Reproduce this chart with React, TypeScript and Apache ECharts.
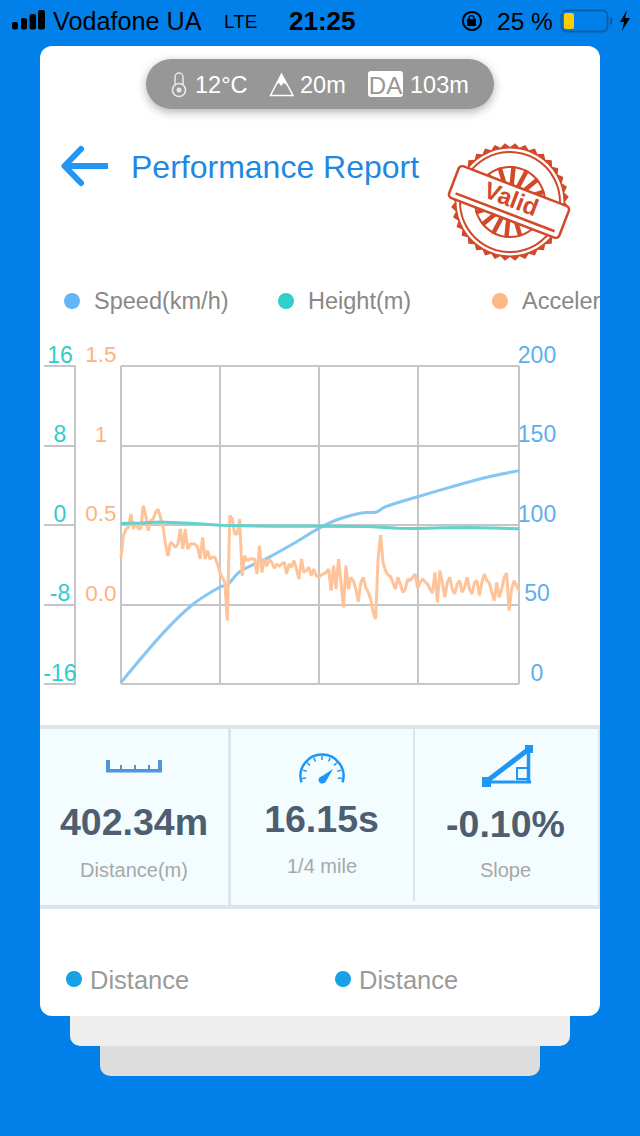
import React, { useEffect, useRef } from "react";
import * as echarts from "echarts";

// one sample every 0.1s, run took 16.1s
const sampleTimes = Array.from({ length: 162 }, (_, i) => (i / 10).toFixed(1));

const speedSamples = [0, 17, 29, 40, 43, 48, 59, 70, 80, 88, 99, 103, 107, 120, 134, 148, 161];
const speedValues = [1, 32, 50, 61, 62.3, 70.6, 79, 88.5, 97.9, 103.6, 107.8, 108, 111.5, 117.8, 124.1, 130, 134.2];

const heightSamples = [0, 8, 16, 30, 40, 60, 80, 100, 112, 120, 130, 140, 150, 161];
const heightValues = [0.15, 0.2, 0.3, 0.15, -0.02, -0.12, -0.12, -0.15, -0.32, -0.35, -0.28, -0.25, -0.3, -0.38];

const accelValues = [
  0.297, 0.433, 0.475, 0.485, 0.569, 0.475, 0.517, 0.475, 0.479, 0.622, 0.559, 0.464, 0.527, 0.538, 0.58, 0.6, 0.548, 0.485, 0.38, 0.303,
  0.391, 0.38, 0.36, 0.38, 0.475, 0.349, 0.475, 0.349, 0.38, 0.38, 0.38, 0.36, 0.286, 0.422, 0.286, 0.339, 0.286, 0.297, 0.297, 0.255,
  0.202, 0.171, 0.139, -0.102, 0.559, 0.538, 0.443, 0.443, 0.538, 0.181, 0.307, 0.276, 0.286, 0.286, 0.286, 0.192, 0.37, 0.202, 0.286, 0.24,
  0.286, 0.265, 0.228, 0.255, 0.24, 0.255, 0.265, 0.192, 0.255, 0.234, 0.276, 0.223, 0.16, 0.286, 0.202, 0.213, 0.234, 0.181, 0.223, 0.181,
  0.171, 0.186, 0.192, 0.202, 0.223, 0.087, 0.244, 0.097, 0.286, 0.139, -0.018, 0.244, 0.097, 0.171, 0.15, 0.097, 0.018, 0.139, 0.171, 0.108,
  0.077, 0.035, -0.049, -0.091, 0.286, 0.437, 0.265, 0.213, 0.186, 0.177, 0.139, 0.097, 0.171, 0.129, 0.077, 0.097, 0.16, 0.15, 0.171, 0.192,
  0.102, 0.139, 0.16, 0.144, 0.129, 0.097, 0.072, 0.202, 0.014, 0.213, 0.139, 0.045, 0.139, 0.171, 0.097, 0.066, 0.129, 0.15, 0.077, 0.108,
  0.171, 0.097, 0.066, 0.139, 0.15, 0.056, 0.139, 0.192, 0.15, 0.135, 0.077, 0.024, 0.139, 0.045, 0.097, 0.171, 0.198, -0.039, 0.097, 0.15,
  0.118, 0.087,
];

const accelTickLabels: Record<string, string> = { "-0.5": "", "0": "0.0", "0.5": "0.5", "1": "1", "1.5": "1.5" };

const SANS = "'Liberation Sans', Arial, sans-serif";
const BLUE = "#0280E9";
const STAMP = "#D2492A";
const ICON = "#1E96F5";
const GRID = "#C6C6C6";

const txt = (text: string, x: number, y: number, size: number, fill: string, extra: any = {}) => {
  const { align, weight, ...rest } = extra;
  return {
    type: "text",
    ...rest,
    style: {
      text, x, y, fill,
      fontSize: size,
      fontFamily: SANS,
      fontWeight: weight || "normal",
      align: align || "left",
      verticalAlign: "middle",
    },
  };
};

const box = (x: number, y: number, width: number, height: number, fill: string, r = 0, extra: any = {}) => ({
  type: "rect",
  shape: { x, y, width, height, r },
  style: { fill },
  ...extra,
});

const stroke = (color: string, lineWidth: number) => ({ stroke: color, lineWidth, fill: "none" });

const seg = (x1: number, y1: number, x2: number, y2: number, color: string, w: number) => ({
  type: "line",
  shape: { x1, y1, x2, y2 },
  style: { stroke: color, lineWidth: w },
});

function statusBar() {
  return [
    box(12, 22, 6, 7.5, "#000", 2),
    box(21, 18, 6, 11.5, "#000", 2),
    box(29.5, 14, 6.5, 15.5, "#000", 2),
    box(38, 10, 7, 19.5, "#000", 2),
    txt("Vodafone UA", 53, 21, 25.2, "#000"),
    txt("LTE", 224, 21, 19, "#000"),
    txt("21:25", 289, 21, 26, "#000", { weight: "bold" }),
    { type: "circle", shape: { cx: 472, cy: 21, r: 9 }, style: stroke("#000", 2) },
    box(467, 19, 9, 7, "#000", 1),
    { type: "circle", shape: { cx: 471.5, cy: 18, r: 2.5 }, style: stroke("#000", 1.5) },
    txt("25 %", 497, 21, 24.5, "#000"),
    { type: "rect", shape: { x: 561.5, y: 10.5, width: 46, height: 21, r: 5 }, style: stroke("#0A5EA8", 2) },
    box(564, 13, 10, 16, "#FFCC00", 2),
    box(610, 17, 2, 8, "#0A5EA8", 1),
    { type: "polygon", shape: { points: [[627, 10], [620, 22], [624, 22], [622, 31], [630, 18], [625, 18]] }, style: { fill: "#000" } },
  ];
}

function pill() {
  return [
    box(146, 59, 348, 50, "#979797", 25, { style: { fill: "#979797", shadowBlur: 10, shadowColor: "rgba(0,0,0,0.3)", shadowOffsetY: 3 } }),
    { type: "rect", shape: { x: 175, y: 73, width: 8, height: 18, r: 4 }, style: stroke("#E8E8E8", 1.5) },
    { type: "circle", shape: { cx: 179, cy: 90, r: 6.5 }, style: { fill: "#979797", stroke: "#E8E8E8", lineWidth: 1.5 } },
    { type: "circle", shape: { cx: 179, cy: 90, r: 2.5 }, style: { fill: "#E8E8E8" } },
    txt("12°C", 195, 85, 23.5, "#fff"),
    { type: "polygon", shape: { points: [[270.5, 95.5], [281.5, 74], [293, 95.5]] }, style: { fill: "#979797", stroke: "#fff", lineWidth: 1.5 } },
    { type: "polygon", shape: { points: [[276, 85], [281.5, 74], [287, 85], [283.5, 83], [281, 86], [279, 83]] }, style: { fill: "#fff" } },
    txt("20m", 300, 85, 23.5, "#fff"),
    box(368, 71, 35, 26, "#fff", 3),
    txt("DA", 385.5, 85, 24, "#979797", { align: "center" }),
    txt("103m", 410, 85, 23.5, "#fff"),
  ];
}

function header() {
  return [
    { type: "polyline", shape: { points: [[81, 149], [64.5, 166], [81, 183]] }, style: { ...stroke("#2196F3", 6), lineCap: "round", lineJoin: "round" } },
    seg(66, 166, 108, 166, "#2196F3", 6),
    txt("Performance Report", 131, 167, 32, "#1E88E5"),
  ];
}

function stamp() {
  // toothed seal edge, rays and the tilted banner
  const cx = 510;
  const cy = 202;
  const teeth: number[][] = [];
  for (let i = 0; i < 72; i++) {
    const r = i % 2 ? 59 : 55;
    const a = (i / 72) * Math.PI * 2;
    teeth.push([cx + r * Math.cos(a), cy + r * Math.sin(a)]);
  }
  const rays = [];
  for (let i = 0; i < 16; i++) {
    const a = (i / 16) * Math.PI * 2 + 0.1;
    rays.push(seg(cx + 14 * Math.cos(a), cy + 14 * Math.sin(a), cx + 36 * Math.cos(a), cy + 36 * Math.sin(a), STAMP, 4.5));
  }
  return [
    { type: "polygon", shape: { points: teeth }, style: { fill: STAMP } },
    { type: "circle", shape: { cx, cy, r: 53.5 }, style: { fill: "#fff" } },
    { type: "circle", shape: { cx, cy, r: 50 }, style: stroke(STAMP, 2) },
    { type: "circle", shape: { cx, cy, r: 35 }, style: stroke(STAMP, 2) },
    ...rays,
    {
      type: "group",
      x: cx - 1,
      y: cy,
      rotation: -(21 * Math.PI) / 180,
      children: [
        { type: "rect", shape: { x: -59, y: -17, width: 118, height: 34, r: 4 }, style: { fill: "#fff", stroke: STAMP, lineWidth: 2.5 } },
        seg(-53, 11, 53, 11, STAMP, 2.5),
        { type: "text", style: { text: "Valid", x: 1, y: -4, fill: STAMP, fontSize: 24, fontWeight: "bold", fontFamily: SANS, align: "center", verticalAlign: "middle" } },
      ],
    },
  ];
}

function statsPanel() {
  const panelLine = "#DCE6EA";
  const gaugeTicks = [];
  for (let i = 0; i < 9; i++) {
    const a = Math.PI * (0.96 + (i / 8) * 1.08);
    gaugeTicks.push(seg(322 + 16 * Math.cos(a), 776 + 16 * Math.sin(a), 322 + 20 * Math.cos(a), 776 + 20 * Math.sin(a), ICON, 1.5));
  }
  return [
    box(40, 729, 558, 176, "#F3FCFF"),
    box(40, 725, 560, 4, panelLine),
    box(40, 905, 560, 4, panelLine),
    box(598, 725, 2, 184, panelLine),
    box(228, 729, 3, 176, panelLine),
    box(413, 729, 2, 172, panelLine),
    // ruler
    box(106, 769, 56, 3.5, "#5094DA"),
    box(106, 760, 4, 12, "#5094DA"),
    box(158, 760, 4, 12, "#5094DA"),
    box(120, 765, 2, 5, "#5094DA"),
    box(134, 765, 2, 5, "#5094DA"),
    box(148, 765, 2, 5, "#5094DA"),
    // gauge
    { type: "arc", shape: { cx: 322, cy: 776, r: 21.5, startAngle: Math.PI - 0.3, endAngle: Math.PI * 2 + 0.3, clockwise: true }, style: stroke(ICON, 2.5) },
    ...gaugeTicks,
    { type: "polygon", shape: { points: [[319, 778], [333, 769], [325, 783]] }, style: { fill: ICON } },
    { type: "circle", shape: { cx: 322, cy: 780, r: 3.5 }, style: { fill: ICON } },
    // slope
    seg(487, 781, 529, 749, ICON, 5),
    seg(528.5, 749, 528.5, 783, ICON, 3.5),
    seg(486, 782, 531, 782, ICON, 3),
    box(482, 777, 9, 10, ICON),
    box(525, 745, 8, 8, ICON),
    { type: "rect", shape: { x: 517, y: 768, width: 11, height: 11 }, style: stroke(ICON, 2) },
    txt("402.34m", 134, 822, 37.5, "#4D5E70", { align: "center", weight: "bold" }),
    txt("16.15s", 321.5, 819, 37.5, "#4D5E70", { align: "center", weight: "bold" }),
    txt("-0.10%", 505.5, 824, 37.5, "#4D5E70", { align: "center", weight: "bold" }),
    txt("Distance(m)", 134, 870, 20, "#A8A8A8", { align: "center" }),
    txt("1/4 mile", 322, 866, 20, "#A8A8A8", { align: "center" }),
    txt("Slope", 505.5, 870, 20, "#A8A8A8", { align: "center" }),
  ];
}

function footerKeys() {
  return [
    { type: "circle", shape: { cx: 74, cy: 979, r: 8 }, style: { fill: "#17A2E8" } },
    txt("Distance", 90, 980, 25.5, "#9A9A9A"),
    { type: "circle", shape: { cx: 343, cy: 979, r: 8 }, style: { fill: "#17A2E8" } },
    txt("Distance", 359, 980, 25.5, "#9A9A9A"),
  ];
}

const legendAt = (name: string, left: number) => ({
  data: [name],
  left,
  top: 289,
  icon: "circle",
  itemWidth: 16,
  itemHeight: 16,
  padding: 0,
  selectedMode: false,
  textStyle: { fontSize: 23.5, color: "#888888", fontFamily: SANS, padding: [0, 0, 0, 9] },
});

const App = () => {
  const chartRef = useRef<HTMLDivElement>(null);

  useEffect(() => {
    if (!chartRef.current) return;
    document.body.style.margin = "0";

    const chart = echarts.init(chartRef.current, null, { renderer: "svg" });

    const options = {
      animation: false,
      backgroundColor: BLUE,
      textStyle: { fontFamily: SANS },
      graphic: [
        {
          elements: [
            box(100, 1000, 440, 76, "#DDDDDD", 10),
            box(70, 1000, 500, 46, "#EEEEEE", 10),
            box(40, 46, 560, 970, "#FFFFFF", 12),
            // the third legend entry is cut off by the card edge
            box(600, 280, 40, 40, BLUE, 0, { z: 20 }),
            ...statusBar(),
            ...pill(),
            ...header(),
            ...stamp(),
            ...statsPanel(),
            ...footerKeys(),
          ],
        },
      ],
      legend: [legendAt("Speed(km/h)", 64), legendAt("Height(m)", 278), legendAt("Acceleration", 492)],
      grid: {
        left: 121,
        right: 121,
        top: 366,
        bottom: 452,
      },
      xAxis: {
        type: "category",
        data: sampleTimes,
        boundaryGap: false,
        axisLine: { show: false },
        axisTick: { show: false },
        axisLabel: { show: false },
        splitLine: {
          show: true,
          interval: (i: number) => (i % 40 === 0 && i !== 160) || i === 161,
          lineStyle: { color: GRID, width: 2 },
        },
      },
      yAxis: [
        {
          type: "value",
          position: "right",
          min: 0,
          max: 200,
          interval: 50,
          axisLine: { show: false },
          axisTick: { show: false },
          axisLabel: { fontSize: 23, color: "#5BB0F0", align: "center", verticalAlign: "bottom", margin: 18 },
          splitLine: { show: true, lineStyle: { color: GRID, width: 2 } },
        },
        {
          type: "value",
          position: "left",
          offset: 46,
          min: -16,
          max: 16,
          interval: 8,
          axisLine: { show: true, lineStyle: { color: GRID, width: 2 } },
          axisTick: { show: true, length: 31, lineStyle: { color: GRID, width: 2 } },
          axisLabel: { fontSize: 23, color: "#2ECDCB", align: "center", verticalAlign: "bottom", margin: 15 },
          splitLine: { show: false },
        },
        {
          type: "value",
          position: "left",
          min: -0.5,
          max: 1.5,
          interval: 0.5,
          axisLine: { show: false },
          axisTick: { show: false },
          axisLabel: {
            fontSize: 22.5,
            color: "#FFB27D",
            align: "center",
            verticalAlign: "bottom",
            margin: 20,
            formatter: (v: number) => accelTickLabels[String(v)],
          },
          splitLine: { show: false },
        },
      ],
      series: [
        {
          name: "Speed(km/h)",
          type: "line",
          yAxisIndex: 0,
          symbol: "none",
          smooth: 0.3,
          data: speedSamples.map((s, i) => [s, speedValues[i]]),
          itemStyle: { color: "#64B5F6" },
          lineStyle: { color: "#85C6F3", width: 3 },
        },
        {
          name: "Acceleration",
          type: "line",
          yAxisIndex: 2,
          symbol: "none",
          data: accelValues,
          itemStyle: { color: "#FFB784" },
          lineStyle: { color: "#FFC39A", width: 3 },
        },
        {
          name: "Height(m)",
          type: "line",
          yAxisIndex: 1,
          symbol: "none",
          data: heightSamples.map((s, i) => [s, heightValues[i]]),
          itemStyle: { color: "#2FCFCB" },
          lineStyle: { color: "#61D2CC", width: 3 },
        },
      ],
    };

    chart.setOption(options);

    return () => {
      chart.dispose();
    };
  }, []);

  return <div ref={chartRef} style={{ width: 640, height: 1136 }} />;
};

export default App;
